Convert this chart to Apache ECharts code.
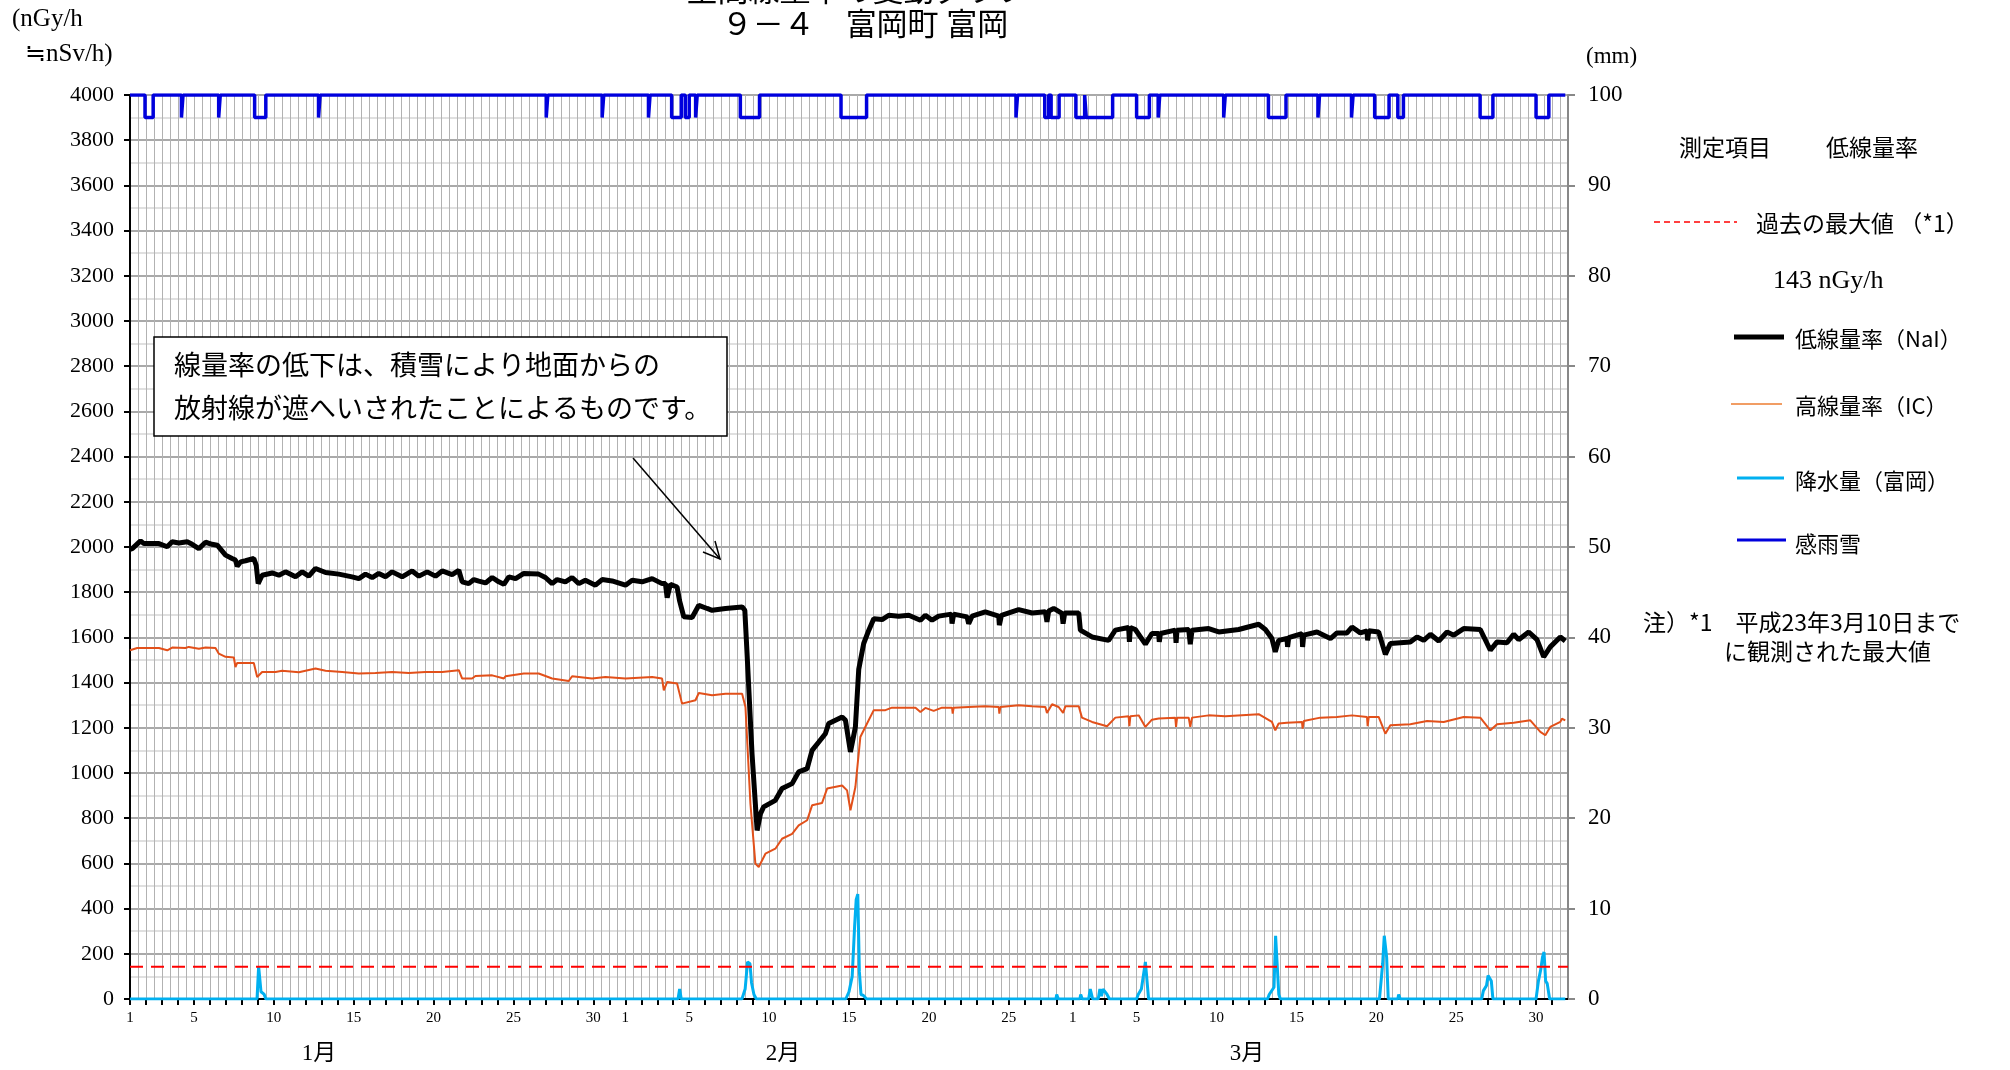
<!DOCTYPE html>
<html lang="ja">
<head>
<meta charset="utf-8">
<title>空間線量率の変動グラフ ９－４ 富岡町 富岡</title>
<script src="https://cdn.jsdelivr.net/npm/echarts@6/dist/echarts.min.js"></script>
<style>
  html, body { margin: 0; padding: 0; background: #fff; }
  #chart { width: 2010px; height: 1070px; }
</style>
</head>
<body>
<div id="chart"></div>
<script>
// 横軸は 1月1日 0時からの経過日数 (0〜90)
const monthStarts = [0, 31, 59];
const monthNames = ['1月', '2月', '3月'];
const labeledDays = [1, 5, 10, 15, 20, 25, 30];

// 低線量率(NaI) [日, nGy/h]
const lowDoseNaI = [
  [0,1990],[0.14,1993],[0.66,2027],[0.87,2015],[1.81,2015],[2.33,2001],[2.64,2023],[3.06,2018],[3.58,2023],[3.89,2012],
  [4.31,1993],[4.73,2021],[5.14,2012],[5.46,2008],[5.98,1964],[6.39,1949],[6.6,1942],[6.71,1915],[6.92,1934],[7.23,1939],
  [7.75,1949],[7.9,1919],[8.02,1838],[8.27,1875],[8.9,1885],[9.32,1875],[9.73,1890],[10.36,1868],[10.78,1890],[11.19,1871],
  [11.61,1905],[12.24,1887],[13.07,1880],[13.9,1868],[14.32,1860],[14.74,1880],[15.16,1865],[15.57,1883],[15.99,1868],
  [16.41,1890],[17.03,1868],[17.66,1894],[18.08,1871],[18.6,1890],[19.12,1871],[19.54,1894],[20.16,1878],[20.58,1897],
  [20.79,1846],[21.2,1838],[21.52,1856],[21.83,1849],[22.25,1841],[22.67,1865],[23.08,1846],[23.4,1835],[23.71,1868],
  [24.13,1860],[24.65,1883],[25.58,1880],[26.0,1865],[26.42,1838],[26.73,1856],[27.25,1846],[27.67,1865],[28.09,1838],
  [28.5,1853],[29.13,1831],[29.55,1856],[30.17,1850],[31.01,1831],[31.43,1853],[32.05,1846],[32.68,1860],[33.3,1838],
  [33.51,1838],[33.62,1776],[33.82,1835],[34.24,1823],[34.39,1764],[34.66,1691],[35.18,1688],[35.6,1742],[36.12,1728],
  [36.43,1720],[37.27,1728],[38.31,1735],[38.48,1720],[38.62,1528],[38.93,1086],[39.25,746],[39.46,820],[39.66,850],
  [40.39,879],[40.81,931],[41.44,953],[41.85,1005],[42.38,1019],[42.69,1100],[43.11,1137],[43.52,1174],[43.73,1219],
  [44.57,1248],[44.78,1233],[45.09,1093],[45.4,1204],[45.61,1459],[45.92,1573],[46.24,1632],[46.55,1683],[47.07,1679],
  [47.49,1698],[48.11,1694],[48.74,1698],[49.47,1676],[49.78,1698],[50.2,1676],[50.61,1694],[51.41,1703],[51.45,1661],
  [51.55,1703],[52.39,1691],[52.49,1661],[52.7,1694],[53.53,1713],[54.37,1694],[54.41,1654],[54.54,1698],[55.62,1723],
  [56.46,1708],[57.29,1713],[57.39,1669],[57.5,1717],[57.81,1728],[58.33,1706],[58.4,1661],[58.5,1708],[59.38,1708],
  [59.48,1632],[60.21,1602],[61.25,1587],[61.67,1632],[62.5,1644],[62.55,1580],[62.61,1644],[62.92,1635],[63.55,1570],
  [63.96,1617],[64.38,1617],[64.42,1580],[64.49,1617],[65.42,1632],[65.47,1576],[65.53,1632],[66.26,1635],[66.36,1570],
  [66.47,1632],[67.51,1639],[68.14,1624],[69.39,1635],[70.64,1658],[71.06,1635],[71.47,1595],[71.68,1536],[71.89,1587],
  [72.41,1595],[72.45,1558],[72.52,1599],[73.35,1617],[73.39,1558],[73.46,1610],[74.29,1624],[75.13,1595],[75.54,1620],
  [76.17,1620],[76.48,1646],[77.0,1620],[77.42,1629],[77.46,1587],[77.53,1629],[78.15,1624],[78.57,1525],[78.88,1573],
  [80.13,1580],[80.55,1602],[80.97,1587],[81.39,1614],[81.91,1584],[82.43,1624],[82.85,1610],[83.47,1639],[84.51,1635],
  [85.14,1543],[85.56,1580],[86.18,1576],[86.6,1614],[86.91,1590],[87.54,1624],[88.06,1590],[88.48,1514],[88.89,1558],
  [89.52,1602],[89.83,1584]
];

// 高線量率(IC) [日, nGy/h]
const highDoseIC = [
  [0,1543],[0.45,1553],[1.81,1553],[2.33,1543],[2.64,1555],[3.47,1553],[3.68,1558],[4.31,1550],[4.73,1555],[5.35,1553],
  [5.56,1528],[5.98,1514],[6.5,1511],[6.6,1469],[6.71,1487],[7.75,1487],[7.96,1425],[8.27,1447],[9.11,1447],[9.52,1452],
  [10.57,1446],[11.61,1462],[12.24,1452],[13.28,1447],[14.32,1440],[15.36,1443],[16.41,1447],[17.45,1443],[18.49,1447],
  [19.54,1447],[20.58,1455],[20.79,1418],[21.41,1418],[21.62,1429],[22.67,1432],[23.4,1418],[23.5,1428],[24.65,1440],
  [25.58,1440],[26.42,1418],[27.46,1407],[27.67,1428],[28.92,1418],[29.76,1425],[31.01,1418],[32.68,1425],[33.3,1418],
  [33.41,1366],[33.62,1403],[34.24,1396],[34.55,1307],[35.39,1322],[35.6,1354],[36.43,1344],[37.27,1351],[38.31,1351],
  [38.52,1292],[38.83,864],[39.14,599],[39.35,584],[39.77,643],[40.39,665],[40.81,709],[41.44,731],[41.85,768],
  [42.38,791],[42.69,857],[43.31,867],[43.63,931],[44.57,945],[44.88,923],[45.09,835],[45.4,938],[45.71,1159],
  [46.13,1219],[46.55,1278],[47.28,1278],[47.69,1289],[49.16,1289],[49.47,1270],[49.78,1288],[50.3,1275],[50.82,1289],
  [51.45,1289],[51.49,1263],[51.55,1289],[52.49,1292],[53.53,1295],[54.37,1292],[54.41,1263],[54.47,1292],[55.62,1300],
  [56.46,1295],[57.29,1292],[57.39,1266],[57.71,1304],[58.12,1292],[58.4,1266],[58.54,1295],[59.38,1295],[59.58,1245],
  [60.21,1226],[61.15,1207],[61.67,1245],[62.5,1251],[62.55,1207],[62.61,1251],[63.13,1255],[63.55,1204],[63.96,1236],
  [64.38,1241],[65.42,1245],[65.47,1204],[65.53,1245],[66.26,1245],[66.36,1204],[66.47,1245],[67.51,1255],[68.55,1251],
  [70.64,1260],[71.47,1226],[71.68,1189],[71.89,1219],[72.41,1222],[73.35,1226],[73.39,1196],[73.46,1230],[74.5,1245],
  [75.54,1248],[76.48,1255],[77.42,1248],[77.46,1207],[77.53,1248],[78.15,1248],[78.57,1174],[78.88,1211],[80.13,1216],
  [81.18,1230],[82.22,1226],[83.47,1248],[84.51,1245],[85.14,1189],[85.56,1216],[86.6,1222],[87.64,1233],[88.27,1182],
  [88.58,1167],[88.89,1204],[89.52,1226],[89.62,1240],[89.83,1233]
];

// 降水量(富岡) [日, mm]
const rainfall = [
  [0,0],[7.95,0],[8.05,3.6],[8.2,0.8],[8.4,0.5],[8.5,0],[34.3,0],[34.4,1.1],[34.5,0],
  [38.3,0],[38.5,1.1],[38.65,4.1],[38.8,3.9],[38.9,1.8],[39.05,0.5],[39.2,0],
  [44.8,0],[45.0,0.8],[45.2,2.5],[45.35,8],[45.45,11],[45.55,11.6],[45.65,3],[45.75,0.5],[45.9,0.4],[46.1,0],
  [57.95,0],[58.0,0.5],[58.1,0],[59.45,0],[59.5,0.5],[59.6,0],[60.0,0],[60.1,1.1],[60.25,0],
  [60.6,0],[60.7,1.1],[60.8,0.3],[60.9,1.1],[61.15,0.5],[61.3,0],
  [63.0,0],[63.1,0.5],[63.3,1.1],[63.55,4.1],[63.65,3.9],[63.75,0],
  [71.2,0],[71.3,0.5],[71.6,1.3],[71.7,7.0],[71.8,7.0],[71.9,0.5],[72.0,0],
  [78.2,0],[78.4,3.9],[78.5,7.0],[78.65,4.6],[78.75,0],[79.35,0],[79.4,0.5],[79.5,0],
  [84.6,0],[84.7,0.9],[84.9,1.5],[85.0,2.6],[85.2,2.0],[85.3,0],
  [88.0,0],[88.15,2.0],[88.3,3.3],[88.4,4.6],[88.5,5.2],[88.6,2.0],[88.7,1.7],[88.85,0],[89.83,0]
];

// 感雨雪 : 感雨のあった期間 [開始日, 終了日]
const rainSensed = [
  [0.94,1.45],[3.22,3.32],[5.55,5.65],[7.8,8.5],[11.8,11.9],[26.05,26.15],[29.55,29.65],[32.45,32.55],
  [33.9,34.5],[34.75,35.0],[35.4,35.5],[38.2,39.4],[44.5,46.1],[55.45,55.55],[57.25,57.5],[57.65,58.15],
  [59.2,59.75],[59.85,61.5],[63.0,63.8],[64.35,64.45],[68.45,68.55],[71.25,72.35],[74.35,74.45],
  [76.45,76.55],[77.9,78.8],[79.35,79.7],[84.5,85.3],[88.0,88.8]
];
const rainOff = 100;
const rainOn = 97.5;

// 過去の最大値 (nGy/h)
const pastMax = 143;

// 感雨雪の階段状データ
const rainSensedLine = [[0, rainOff]];
rainSensed.forEach(([a, b]) => {
  rainSensedLine.push([a, rainOff], [a, rainOn], [b, rainOn], [b, rainOff]);
});
rainSensedLine.push([89.83, rainOff]);

const SERIF = "'Liberation Serif', 'Noto Sans CJK JP', serif";
const JP = "'Noto Sans CJK JP', sans-serif";

function dayLabel(v) {
  if (Math.abs(v - Math.round(v)) > 1e-6) return '';
  const d = Math.round(v);
  for (let m = monthStarts.length - 1; m >= 0; m--) {
    if (d >= monthStarts[m]) {
      const dom = d - monthStarts[m] + 1;
      return labeledDays.indexOf(dom) >= 0 ? String(dom) : '';
    }
  }
  return '';
}

function txt(text, x, y, size, opts) {
  opts = opts || {};
  return {
    type: 'text', x: x, y: y, z: 100,
    style: {
      text: text, fill: '#000',
      font: (opts.weight || 'normal') + ' ' + size + 'px ' + (opts.family || JP),
      align: opts.align || 'left', verticalAlign: 'middle'
    }
  };
}
function seg(x1, y1, x2, y2, color, width, dash) {
  return {
    type: 'line', z: 100,
    shape: { x1: x1, y1: y1, x2: x2, y2: y2 },
    style: { stroke: color, lineWidth: width, lineDash: dash || null }
  };
}

const chart = echarts.init(document.getElementById('chart'));

chart.setOption({
  animation: false,
  backgroundColor: '#fff',
  grid: { left: 130, right: 442, top: 95, bottom: 71, containLabel: false },
  xAxis: {
    type: 'value', min: 0, max: 90, interval: 1,
    axisLine: { show: true, onZero: false, lineStyle: { color: '#000', width: 2 } },
    axisTick: { show: true, length: 6, lineStyle: { color: '#000', width: 2 } },
    minorTick: { show: false, splitNumber: 2 },
    splitLine: { show: true, lineStyle: { color: '#b2b2b2', width: 1 } },
    minorSplitLine: { show: true, lineStyle: { color: '#b2b2b2', width: 1 } },
    axisLabel: {
      formatter: dayLabel, color: '#000', fontFamily: SERIF, fontSize: 15, margin: 12,
      showMinLabel: true, showMaxLabel: false, hideOverlap: false
    }
  },
  yAxis: [
    {
      type: 'value', position: 'left', min: 0, max: 4000, interval: 200,
      axisLine: { show: true, lineStyle: { color: '#000', width: 2 } },
      axisTick: { show: true, length: 6, lineStyle: { color: '#000', width: 2 } },
      minorTick: { show: false, splitNumber: 2 },
      splitLine: { show: true, lineStyle: { color: '#8c8c8c', width: 1.5 } },
      minorSplitLine: { show: true, lineStyle: { color: '#d6d6d6', width: 1.5 } },
      axisLabel: { formatter: v => String(v), color: '#000', fontFamily: SERIF, fontSize: 22, margin: 16 }
    },
    {
      type: 'value', position: 'right', min: 0, max: 100, interval: 10,
      axisLine: { show: true, lineStyle: { color: '#888', width: 2 } },
      axisTick: { show: true, length: 7, lineStyle: { color: '#888', width: 2 } },
      splitLine: { show: false },
      axisLabel: { color: '#000', fontFamily: SERIF, fontSize: 23, margin: 20 }
    }
  ],
  series: [
    {
      name: '低線量率(NaI)', type: 'line', data: lowDoseNaI, yAxisIndex: 0,
      showSymbol: false, lineStyle: { color: '#000', width: 5 }, z: 3
    },
    {
      name: '高線量率(IC)', type: 'line', data: highDoseIC, yAxisIndex: 0,
      showSymbol: false, lineStyle: { color: '#e2501a', width: 2 }, z: 4
    },
    {
      name: '降水量(富岡)', type: 'line', data: rainfall, yAxisIndex: 1,
      showSymbol: false, lineStyle: { color: '#00b0f0', width: 3 }, z: 5
    },
    {
      name: '過去の最大値', type: 'line', data: [[0, pastMax], [90, pastMax]], yAxisIndex: 0,
      showSymbol: false, lineStyle: { color: '#ff0000', width: 2, type: [13, 8] }, z: 6
    },
    {
      name: '感雨雪', type: 'line', data: rainSensedLine, yAxisIndex: 1,
      showSymbol: false, lineStyle: { color: '#0000dd', width: 3.5 }, z: 7
    }
  ],
  graphic: [
    // タイトル (上の行は画面上端で切れている)
    txt('空間線量率の変動グラフ', 857, -7, 31, { align: 'center', family: SERIF }),
    txt('９－４　富岡町 富岡', 865, 27, 31, { align: 'center', family: SERIF }),
    // 軸の単位
    txt('(nGy/h', 12, 19, 25, { family: SERIF }),
    txt('≒nSv/h)', 25, 54, 25, { family: SERIF }),
    txt('(mm)', 1586, 57, 23, { family: SERIF }),
    // 月
    txt('1月', 319, 1054, 23, { align: 'center', family: SERIF }),
    txt('2月', 783, 1054, 23, { align: 'center', family: SERIF }),
    txt('3月', 1247, 1054, 23, { align: 'center', family: SERIF }),
    // 注記ボックス
    {
      type: 'rect', z: 100,
      shape: { x: 154, y: 337, width: 573, height: 99 },
      style: { fill: '#fff', stroke: '#000', lineWidth: 1.5 }
    },
    txt('線量率の低下は、積雪により地面からの', 174, 365, 27),
    txt('放射線が遮へいされたことによるものです。', 174, 408, 27),
    seg(633, 458, 720, 559, '#000', 1.5),
    {
      type: 'polyline', z: 100,
      shape: { points: [[715, 541], [720, 559], [703, 552]] },
      style: { stroke: '#000', lineWidth: 1.5, fill: null }
    },
    // 凡例
    txt('測定項目', 1679, 147, 23),
    txt('低線量率', 1826, 147, 23),
    seg(1654, 222, 1737, 222, '#ff0000', 1.5, [6, 4]),
    txt('過去の最大値 （*1）', 1756, 223, 23),
    txt('143 nGy/h', 1773, 281, 26, { family: SERIF }),
    seg(1734, 337, 1784, 337, '#000', 5),
    txt('低線量率（NaI）', 1795, 339, 22),
    seg(1731, 404, 1782, 404, '#ed7d31', 1.5),
    txt('高線量率（IC）', 1795, 406, 22),
    seg(1737, 478, 1784, 478, '#00b0f0', 3),
    txt('降水量（富岡）', 1795, 481, 22),
    seg(1737, 540, 1786, 540, '#0000dd', 3),
    txt('感雨雪', 1795, 544, 22),
    txt('注）*1　平成23年3月10日まで', 1643, 622, 23),
    txt('に観測された最大値', 1724, 651, 23)
  ]
});

window.addEventListener('resize', () => chart.resize());
</script>
</body>
</html>
